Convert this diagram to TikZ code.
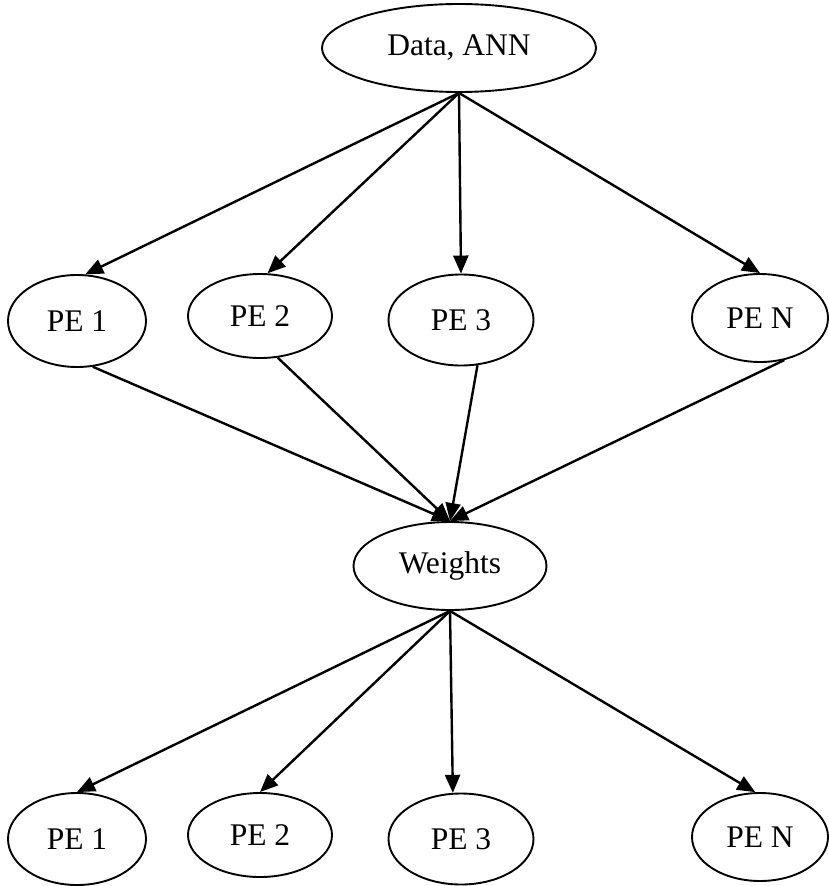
\documentclass[tikz,border=0pt]{standalone}
\usepackage{fontspec}
\setmainfont{Liberation Serif}
\usetikzlibrary{shapes.geometric,arrows.meta}
\begin{document}
\begin{tikzpicture}[x=1pt,y=-1pt,
  blob/.style={draw, ellipse, line width=1.9pt, inner sep=0pt,
    font=\fontsize{31.5}{36}\selectfont},
  link/.style={line width=2.4pt, -{Triangle[length=18pt,width=15pt]}}]
\useasboundingbox (0,0) rectangle (828,886);

% source and weights
\node[blob, minimum width=274pt, minimum height=88pt] (data) at (459,48) {Data, ANN};
\node[blob, minimum width=193pt, minimum height=88pt] (w) at (450,566) {Weights};

% first row of processing elements
\node[blob, minimum width=138pt, minimum height=92pt] (a1) at (77,321) {PE 1};
\node[blob, minimum width=144pt, minimum height=84pt] (a2) at (260,316) {PE 2};
\node[blob, minimum width=145pt, minimum height=91pt] (a3) at (461,320) {PE 3};
\node[blob, minimum width=136pt, minimum height=88pt] (an) at (760,318) {PE N};

% second row of processing elements
\node[blob, minimum width=138pt, minimum height=92pt] (b1) at (77,839) {PE 1};
\node[blob, minimum width=144pt, minimum height=84pt] (b2) at (260,835) {PE 2};
\node[blob, minimum width=145pt, minimum height=91pt] (b3) at (461,839) {PE 3};
\node[blob, minimum width=136pt, minimum height=88pt] (bn) at (760,837) {PE N};

% distribution of data
\draw[link] (data.south) -- (a1.80);
\draw[link] (data.south) -- (a2.80);
\draw[link] (data.south) -- (a3.north);
\draw[link] (data.south) -- (an.north);

% collection into weights
\draw[link] (a1.-71) -- (w.north);
\draw[link] (a2.-67) -- (w.north);
\draw[link] (a3.-70) -- (w.north);
\draw[link] (an.-60) -- (w.north);

% redistribution of weights
\draw[link] (w.south) -- (b1.north);
\draw[link] (w.south) -- (b2.north);
\draw[link] (w.south) -- (b3.100);
\draw[link] (w.south) -- (bn.96);
\end{tikzpicture}
\end{document}
